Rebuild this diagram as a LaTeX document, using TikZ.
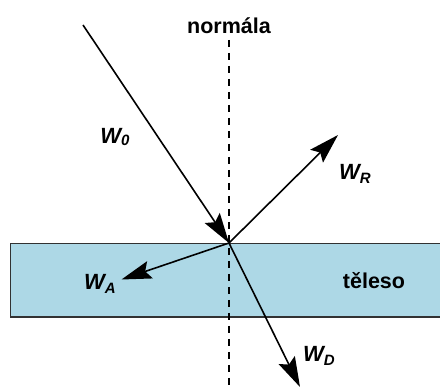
\documentclass[tikz,border=0pt]{standalone}
\usepackage{fontspec}
\setmainfont{Liberation Sans}
\usetikzlibrary{arrows.meta}
\definecolor{slab}{RGB}{173,216,230}
\definecolor{slabedge}{RGB}{50,50,50}
\begin{document}
\begin{tikzpicture}[x=1pt,y=-1pt,
  ray/.style={line width=1.6pt,-{Stealth[length=30pt,width=18pt,inset=5pt]}},
  lbl/.style={font=\fontsize{21.5}{24}\selectfont\bfseries},
  wlbl/.style={font=\fontsize{22}{24}\selectfont\bfseries\itshape, inner sep=0pt}]
\useasboundingbox (0,0) rectangle (440,387);
\fill[white] (0,0) rectangle (440,387);
% slab
\draw[fill=slab, draw=slabedge, line width=1.5pt] (10.7,243.3) rectangle (442,317);
% coordinates
\coordinate (O) at (229,243);
\coordinate (inc) at (83,25);
\coordinate (refl) at (338,135);
\coordinate (abs) at (121.5,279.5);
\coordinate (tr) at (300,387);
\coordinate (ntop) at (229,40);
\coordinate (nbot) at (229,390);
% normal
\draw[line width=1.6pt, dash pattern=on 7pt off 6pt] (ntop) -- (nbot);
% rays
\draw[ray] (inc) -- (O);
\draw[ray] (O) -- (refl);
\draw[ray] (O) -- (abs);
\draw[ray] (O) -- (tr);
% labels
\node[lbl] (normal) at (229,26) {normála};
\node[lbl] (body) at (374,281) {těleso};
\node[wlbl] (w0) at (115,137) {W\raisebox{-0.25ex}{\fontsize{15}{15}\selectfont 0}};
\node[wlbl] (wr) at (355,174) {W\raisebox{-0.3ex}{\fontsize{15}{15}\selectfont R}};
\node[wlbl] (wa) at (100,284) {W\raisebox{-0.3ex}{\fontsize{15}{15}\selectfont A}};
\node[wlbl] (wd) at (319,356) {W\raisebox{-0.3ex}{\fontsize{15}{15}\selectfont D}};
\end{tikzpicture}
\end{document}
